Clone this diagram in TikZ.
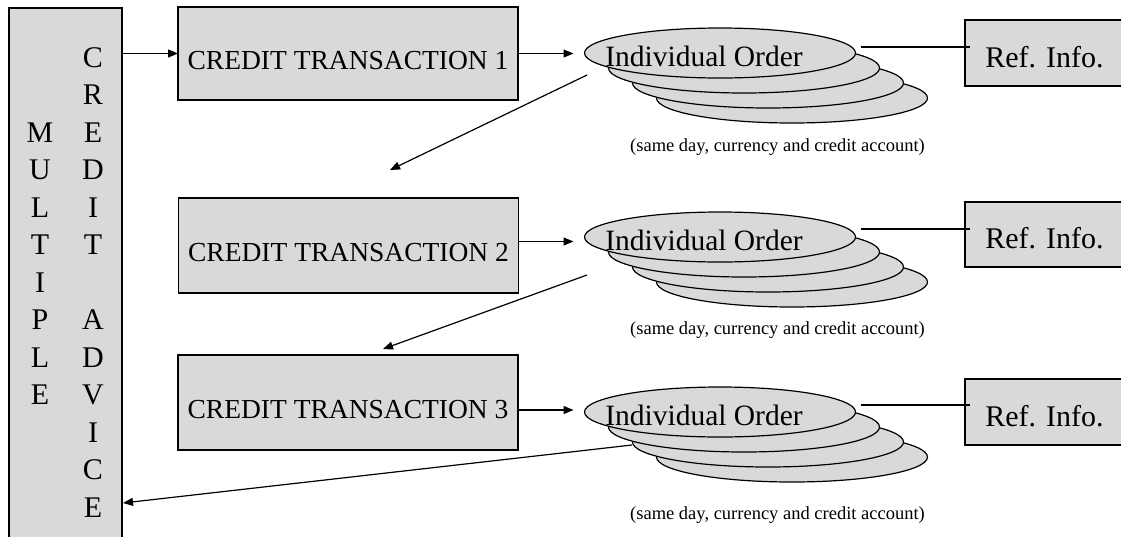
\documentclass[tikz,border=0pt]{standalone}
\usepackage{fontspec}
\setmainfont{Liberation Serif}
\usetikzlibrary{arrows.meta,shapes.geometric}
\definecolor{boxfill}{RGB}{217,217,217}
\begin{document}
\begin{tikzpicture}[x=1pt,y=-1pt,
  every node/.style={inner sep=0pt, outer sep=0pt},
  panel/.style={draw, fill=boxfill, line width=1.2pt, rectangle},
  txbox/.style={panel, minimum width=340pt, font=\fontsize{27.5}{30}\selectfont,
    text height=36pt, text depth=4pt},
  refbox/.style={panel, minimum width=159pt, minimum height=66pt,
    font=\fontsize{30}{32}\selectfont, text height=30pt, text depth=2pt},
  disc/.style={ellipse, draw, fill=boxfill, line width=1.2pt,
    minimum width=271pt, minimum height=50pt},
  ordertext/.style={font=\fontsize{29.5}{32}\selectfont, anchor=base},
  note/.style={font=\fontsize{18.5}{20}\selectfont},
  letter/.style={font=\fontsize{30}{32}\selectfont, anchor=base},
  flow/.style={line width=1.2pt, -{Triangle[length=10pt,width=8pt]}},
  link/.style={line width=1.2pt}]

\fill[white] (0,0) rectangle (1121,536);
\useasboundingbox (0,0) rectangle (1121,536);

% tall advice panel with its two letter columns
\node[panel, minimum width=113pt, minimum height=560pt, anchor=north west] (mca) at (9,8) {};
\foreach \ch [count=\i from 0] in {M,U,L,T,I,P,L,E}
  \node[letter] (ml\i) at (40,{142+37.5*\i}) {\ch};
\foreach \ch [count=\i from 0] in {C,R,E,D,I,T}
  \node[letter] (cr\i) at (93,{67+37.5*\i}) {\ch};
\foreach \ch [count=\i from 0] in {A,D,V,I,C,E}
  \node[letter] (ad\i) at (93,{329.5+37.5*\i}) {\ch};

% credit transactions
\node[txbox, minimum height=93pt] (t1) at (348,53.5) {CREDIT TRANSACTION 1};
\node[txbox, minimum height=95pt] (t2) at (348.5,245.5) {CREDIT TRANSACTION 2};
\node[txbox, minimum height=95pt] (t3) at (348,402.5) {CREDIT TRANSACTION 3};

% stacks of individual orders (back to front)
\foreach \k/\c in {1/53,2/237,3/412} {
  \foreach \j in {3,2,1} {
    \node[disc] (o\k s\j) at ({720+24*\j},{\c+15*\j}) {};
  }
  \node[disc] (o\k) at (720,\c) {};
  \node[ordertext] (o\k t) at (704,{\c+13}) {Individual Order};
}

% reference info boxes
\node[refbox] (r1) at (1044.5,53) {Ref. Info.};
\node[refbox, minimum height=65pt] (r2) at (1044.5,234.5) {Ref. Info.};
\node[refbox] (r3) at (1044.5,412) {Ref. Info.};

% captions
\node[note] (n1) at (777.5,147) {(same day, currency and credit account)};
\node[note] (n2) at (777.5,330) {(same day, currency and credit account)};
\node[note] (n3) at (777.5,515) {(same day, currency and credit account)};

% connectors
\draw[flow] (mca.east |- t1.west) -- (t1.west);
\draw[flow, shorten >=11pt] (t1.east) -- (t1.east -| o1.west);
\draw[flow, shorten >=11pt] ([yshift=4pt]t2.east) -- ([yshift=4pt]t2.east -| o2.west);
\draw[flow, shorten >=11pt] ([yshift=-7.5pt]t3.east) -- ([yshift=-7.5pt]t3.east -| o3.west);

\draw[link] ([xshift=5pt,yshift=6pt]o1.east) -- ([xshift=5pt,yshift=6pt]o1.east -| r1.west);
\draw[link] ([xshift=5pt,yshift=8pt]o2.east) -- ([xshift=5pt,yshift=8pt]o2.east -| r2.west);
\draw[link] ([xshift=5pt,yshift=7pt]o3.east) -- ([xshift=5pt,yshift=7pt]o3.east -| r3.west);

\coordinate (d1s) at (587,75);
\coordinate (d1e) at (390,170);
\coordinate (d2s) at (587,275);
\coordinate (d2e) at (383,349);
\coordinate (d3s) at (632,445);
\coordinate (d3e) at (123,503);
\draw[flow] (d1s) -- (d1e);
\draw[flow] (d2s) -- (d2e);
\draw[flow] (d3s) -- (d3e);
\end{tikzpicture}
\end{document}
